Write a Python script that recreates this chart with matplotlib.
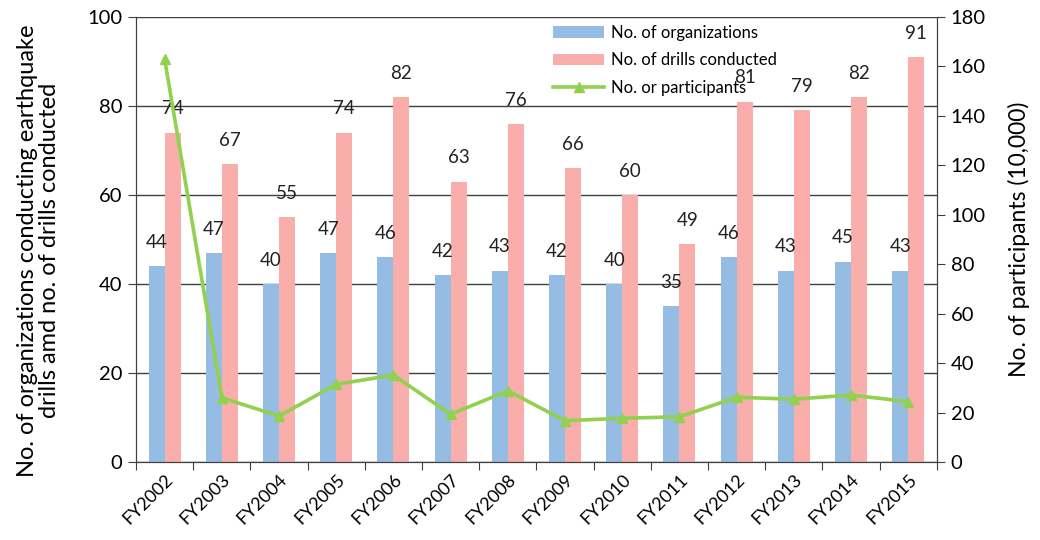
import matplotlib.pyplot as plt
import numpy as np

plt.rcParams['font.family'] = ['Lato', 'DejaVu Sans']

years = ['FY2002', 'FY2003', 'FY2004', 'FY2005', 'FY2006', 'FY2007', 'FY2008',
         'FY2009', 'FY2010', 'FY2011', 'FY2012', 'FY2013', 'FY2014', 'FY2015']
organizations = [44, 47, 40, 47, 46, 42, 43, 42, 40, 35, 46, 43, 45, 43]
drills = [74, 67, 55, 74, 82, 63, 76, 66, 60, 49, 81, 79, 82, 91]
participants = [163, 26, 18.6, 31.4, 35.2, 19.3, 28.8, 16.7, 17.7, 18.3, 26.2, 25.4, 27.1, 24.4]

blue = '#95BDE3'
pink = '#FAAEAB'
green = '#92D050'
dark = '#404040'

fig = plt.figure(figsize=(10.4, 5.4), dpi=100)
ax = fig.add_axes([0.1308, 0.1444, 0.770, 0.8241])
ax2 = ax.twinx()

x = np.arange(len(years))
w = 0.28
b1 = ax.bar(x - w / 2, organizations, w, color=blue, label='No. of organizations', zorder=2)
b2 = ax.bar(x + w / 2, drills, w, color=pink, label='No. of drills conducted', zorder=2)
for bars, vals in ((b1, organizations), (b2, drills)):
    for r, v in zip(bars, vals):
        ax.annotate(str(v), (r.get_x() + r.get_width() / 2, v), xytext=(0, 11),
                    textcoords='offset points', ha='center', va='bottom',
                    fontsize=13.5, color='#222222', zorder=5)

ln, = ax2.plot(x, participants, color=green, linewidth=2.6, marker='^',
               markersize=7, label='No. or participants', zorder=3)

ax.set_xlim(-0.5, len(years) - 0.5)
ax.set_ylim(0, 100)
ax2.set_ylim(0, 180)
ax.set_yticks(range(0, 101, 20))
ax2.set_yticks(range(0, 181, 20))
ax.yaxis.grid(True, color=dark, linewidth=1.0, zorder=0)
ax.set_axisbelow(True)

# category boundaries get the tick marks, names sit between them
ax.set_xticks(np.arange(-0.5, len(years), 1))
ax.set_xticklabels([])
ax.set_xticks(x, minor=True)
ax.set_xticklabels(years, minor=True, rotation=45, ha='right',
                   rotation_mode='anchor', fontsize=13)
ax.tick_params(axis='x', which='minor', length=0, pad=7)
ax.tick_params(axis='x', which='major', length=6, color=dark, direction='out')
ax.tick_params(axis='y', length=6, color=dark, labelsize=14.5, pad=4)
ax2.tick_params(axis='y', length=6, color=dark, labelsize=14.5, pad=4)

for a in (ax, ax2):
    a.spines['top'].set_visible(False)
    for s in ('left', 'right', 'bottom'):
        a.spines[s].set_color(dark)

ax.set_ylabel('No. of organizations conducting earthquake\ndrills amd no. of drills conducted',
              fontsize=17, labelpad=16, linespacing=1.05)
ax.yaxis.set_label_coords(-0.095, 0.475)
ax2.set_ylabel('No. of participants (10,000)', fontsize=16.5, labelpad=16)

fig.legend(handles=[b1, b2, ln], loc='upper left', bbox_to_anchor=(0.517, 0.982),
           frameon=False, fontsize=12, handlelength=3.1, labelspacing=0.7,
           handletextpad=0.4)

fig.savefig('out.png', dpi=100)
